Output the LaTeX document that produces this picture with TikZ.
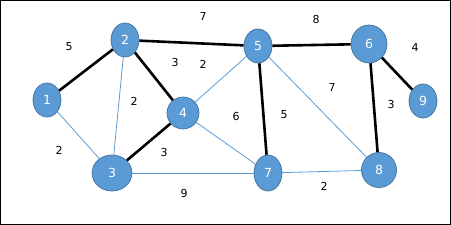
\documentclass[tikz,border=0pt]{standalone}
\usepackage{fontspec}
\setmainfont{DejaVu Sans}
\usepackage{xcolor}
\usepackage{tikz}
\usetikzlibrary{shapes,positioning}

\definecolor{vfill}{HTML}{5B9BD5}
\definecolor{vline}{HTML}{41719C}

\begin{document}
\begin{tikzpicture}[
    x=1pt, y=-1pt,
    vertex/.style={ellipse, draw=vline, fill=vfill, line width=0.7pt, inner sep=0pt, text=white, font=\fontsize{12.5}{14}\selectfont},
    weight/.style={inner sep=0pt, font=\fontsize{11}{13}\selectfont},
    tree/.style={line width=2.6pt, black},
    link/.style={line width=0.8pt, vfill}
  ]

    % frame
    \draw[line width=1pt] (0.5,0.5) rectangle (450.5,224.5);

    % vertices
    \node[vertex, minimum width=28pt, minimum height=34pt] (n1) at (47,100) {1};
    \node[vertex, minimum width=28pt, minimum height=34pt] (n2) at (125,40) {2};
    \node[vertex, minimum width=40pt, minimum height=36pt] (n3) at (112,173) {3};
    \node[vertex, minimum width=32pt, minimum height=32pt] (n4) at (183,113) {4};
    \node[vertex, minimum width=28pt, minimum height=34pt] (n5) at (258,46) {5};
    \node[vertex, minimum width=36pt, minimum height=38pt] (n6) at (369,44) {6};
    \node[vertex, minimum width=28pt, minimum height=36pt] (n7) at (268,173) {7};
    \node[vertex, minimum width=35pt, minimum height=35pt] (n8) at (379,170) {8};
    \node[vertex, minimum width=28pt, minimum height=34pt] (n9) at (423,101) {9};

    % spanning tree edges
    \draw[tree] (n1) -- (n2);
    \draw[tree] (n2) -- (n5);
    \draw[tree] (n2) -- (n4);
    \draw[tree] (n4) -- (n3);
    \draw[tree] (n5) -- (n6);
    \draw[tree] (n5) -- (n7);
    \draw[tree] (n6) -- (n9);
    \draw[tree] (n6) -- (n8);

    % other edges
    \draw[link] (n1) -- (n3);
    \draw[link] (n2) -- (n3);
    \draw[link] (n4) -- (n5);
    \draw[link] (n4) -- (n7);
    \draw[link] (n3) -- (n7);
    \draw[link] (n5) -- (n8);
    \draw[link] (n7) -- (n8);

    % weights
    \node[weight] (w12) at (69,47) {5};
    \node[weight] (w25) at (203,16) {7};
    \node[weight] (w24) at (175,62) {3};
    \node[weight] (w45) at (203,64) {2};
    \node[weight] (w23) at (134,101) {2};
    \node[weight] (w13) at (59,150) {2};
    \node[weight] (w43) at (164,152) {3};
    \node[weight] (w37) at (184,193) {9};
    \node[weight] (w56) at (316,19) {8};
    \node[weight] (w69) at (415,47) {4};
    \node[weight] (w58) at (332,87) {7};
    \node[weight] (w47) at (236,116) {6};
    \node[weight] (w57) at (284,115) {5};
    \node[weight] (w68) at (391,104) {3};
    \node[weight] (w78) at (324,186) {2};

  \end{tikzpicture}
\end{document}
